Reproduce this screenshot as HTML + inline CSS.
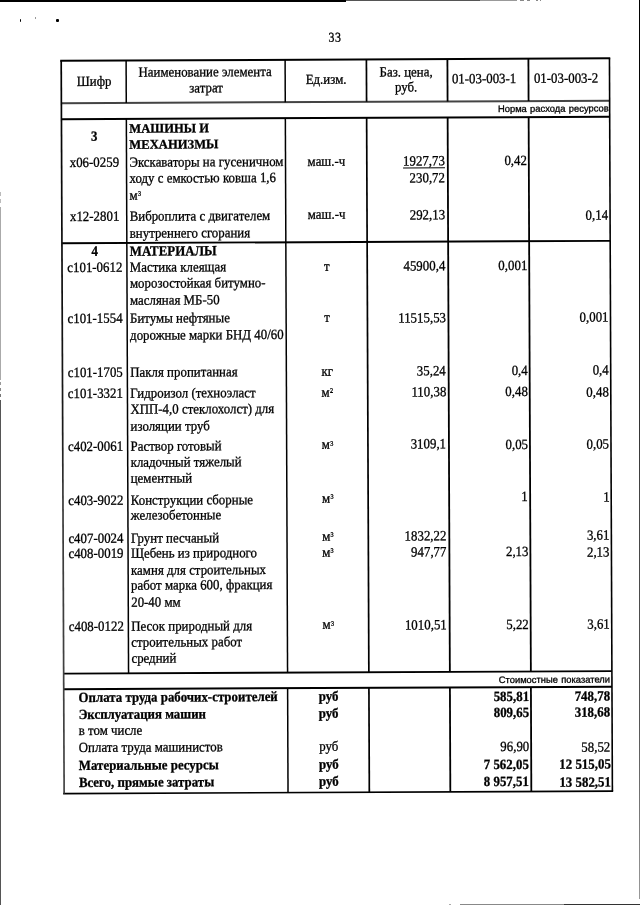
<!DOCTYPE html>
<html lang="ru"><head><meta charset="utf-8"><title>33</title>
<style>
html,body{margin:0;padding:0;background:#fff}
body{width:640px;height:905px;position:relative;overflow:hidden;font-family:"Liberation Serif","DejaVu Serif",serif;font-size:14px;color:#000}
#pg{position:absolute;left:0;top:0;width:640px;height:905px;transform-origin:60px 60px;transform:matrix(1,-0.0045,0.004,1,0,0)}
i{position:absolute;display:block}
.t{position:absolute;white-space:nowrap;-webkit-text-stroke:0.3px #000;line-height:17px;transform:scaleX(0.92);transform-origin:0 0}
.rr{transform-origin:100% 0;text-align:right}
.cc{transform:translateX(-50%) scaleX(0.92);transform-origin:50% 0}
.b{font-weight:bold}

.pn{font-size:13.6px;letter-spacing:0.4px;transform:translateX(-50%) scaleX(0.88)}
.h13{font-size:13px;transform:scaleX(0.97)}
sup{font-size:6.8px;vertical-align:3.5px;line-height:0;margin-left:0.3px}
.u{text-decoration:underline;text-decoration-thickness:1px;text-underline-offset:2.2px}
.sans{font-family:"Liberation Sans","DejaVu Sans",sans-serif;font-size:9.4px;transform:none;word-spacing:0.7px}
</style></head><body>
<div id="pg">
<svg width="640" height="905" style="position:absolute;left:0;top:0"><defs><linearGradient id="lg" x1="0" y1="0" x2="0" y2="1"><stop offset="0" stop-color="#000"/><stop offset="0.5" stop-color="#1a1a1a"/><stop offset="0.6" stop-color="#3a3a3a"/><stop offset="1" stop-color="#444"/></linearGradient></defs>
<rect x="60.20" y="59.80" width="550.05" height="2.00" fill="#000"/>
<rect x="61.20" y="102.20" width="548.25" height="2.00" fill="#444"/>
<rect x="61.20" y="118.20" width="548.25" height="2.00" fill="#000"/>
<rect x="61.20" y="242.35" width="548.25" height="1.90" fill="#000"/>
<rect x="61.20" y="672.65" width="548.25" height="1.90" fill="#000"/>
<rect x="61.20" y="688.20" width="548.25" height="2.00" fill="#000"/>
<rect x="60.20" y="792.80" width="550.05" height="1.60" fill="#000"/>
<rect x="60.35" y="60.80" width="1.70" height="732.80" fill="url(#lg)"/>
<rect x="125.35" y="60.80" width="1.50" height="42.40" fill="#000"/>
<rect x="125.35" y="119.20" width="1.50" height="554.40" fill="#000"/>
<rect x="284.35" y="60.80" width="1.50" height="42.40" fill="#000"/>
<rect x="284.35" y="119.20" width="1.50" height="554.40" fill="#000"/>
<rect x="284.35" y="689.20" width="1.50" height="104.40" fill="#000"/>
<rect x="365.55" y="60.80" width="1.70" height="42.40" fill="#000"/>
<rect x="365.55" y="119.20" width="1.70" height="554.40" fill="#000"/>
<rect x="365.55" y="689.20" width="1.70" height="104.40" fill="#000"/>
<rect x="446.50" y="60.80" width="1.80" height="42.40" fill="#000"/>
<rect x="446.50" y="119.20" width="1.80" height="554.40" fill="#000"/>
<rect x="446.50" y="689.20" width="1.80" height="104.40" fill="#000"/>
<rect x="527.50" y="60.80" width="1.80" height="42.40" fill="#000"/>
<rect x="527.50" y="119.20" width="1.80" height="554.40" fill="#000"/>
<rect x="527.50" y="689.20" width="1.80" height="104.40" fill="#000"/>
<rect x="608.65" y="60.80" width="1.60" height="732.80" fill="#000"/>
</svg>
<div class="t pn cc" style="left:334.97px;top:29.54px">33</div>
<div class="t  cc" style="left:94.00px;top:72.65px">Шифр</div>
<div class="t  cc" style="left:205.34px;top:63.75px">Наименование элемента</div>
<div class="t  cc" style="left:206.12px;top:79.86px">затрат</div>
<div class="t  cc" style="left:325.80px;top:72.40px">Ед.изм.</div>
<div class="t  cc" style="left:406.19px;top:64.56px">Баз. цена,</div>
<div class="t  cc" style="left:406.12px;top:80.31px">руб.</div>
<div class="t  cc" style="left:483.91px;top:71.71px">01-03-003-1</div>
<div class="t  cc" style="left:565.51px;top:72.08px">01-03-003-2</div>
<div class="t sans rr" style="right:31.51px;top:102.17px">Норма расхода ресурсов</div>
<div class="t b cc" style="left:93.67px;top:128.45px">3</div>
<div class="t b h13" style="left:128.75px;top:120.31px">МАШИНЫ И</div>
<div class="t b h13" style="left:128.75px;top:136.31px">МЕХАНИЗМЫ</div>
<div class="t  cc" style="left:93.50px;top:154.06px">x06-0259</div>
<div class="t" style="left:128.75px;top:154.06px">Экскаваторы на гусеничном</div>
<div class="t  cc" style="left:326.10px;top:153.60px">маш.-ч</div>
<div class="t u rr" style="right:195.50px;top:154.04px">1927,73</div>
<div class="t  rr" style="right:113.60px;top:154.40px">0,42</div>
<div class="t" style="left:128.75px;top:170.31px">ходу с емкостью ковша 1,6</div>
<div class="t  rr" style="right:195.50px;top:170.54px">230,72</div>
<div class="t" style="left:128.75px;top:186.56px">м<sup>3</sup></div>
<div class="t  cc" style="left:93.50px;top:208.41px">x12-2801</div>
<div class="t" style="left:128.75px;top:208.41px">Виброплита с двигателем</div>
<div class="t  cc" style="left:326.10px;top:207.45px">маш.-ч</div>
<div class="t  rr" style="right:195.50px;top:208.04px">292,13</div>
<div class="t  rr" style="right:32.10px;top:208.76px">0,14</div>
<div class="t" style="left:128.75px;top:225.31px">внутреннего сгорания</div>
<div class="t b cc" style="left:93.50px;top:243.42px">4</div>
<div class="t b" style="left:128.75px;top:243.42px">МАТЕРИАЛЫ</div>
<div class="t  cc" style="left:93.50px;top:259.06px">c101-0612</div>
<div class="t" style="left:128.75px;top:259.06px">Мастика клеящая</div>
<div class="t  cc" style="left:326.10px;top:258.95px">т</div>
<div class="t  rr" style="right:195.50px;top:259.04px">45900,4</div>
<div class="t  rr" style="right:113.60px;top:259.40px">0,001</div>
<div class="t" style="left:128.75px;top:275.31px">морозостойкая битумно-</div>
<div class="t" style="left:128.75px;top:291.56px">масляная МБ-50</div>
<div class="t  cc" style="left:93.50px;top:310.31px">c101-1554</div>
<div class="t" style="left:128.75px;top:310.31px">Битумы нефтяные</div>
<div class="t  cc" style="left:326.10px;top:310.20px">т</div>
<div class="t  rr" style="right:195.50px;top:310.54px">11515,53</div>
<div class="t  rr" style="right:32.10px;top:311.26px">0,001</div>
<div class="t" style="left:128.75px;top:326.81px">дорожные марки БНД 40/60</div>
<div class="t  cc" style="left:93.50px;top:364.31px">c101-1705</div>
<div class="t" style="left:128.75px;top:364.31px">Пакля пропитанная</div>
<div class="t  cc" style="left:326.10px;top:363.70px">кг</div>
<div class="t  rr" style="right:195.50px;top:364.04px">35,24</div>
<div class="t  rr" style="right:113.60px;top:363.90px">0,4</div>
<div class="t  rr" style="right:32.10px;top:364.26px">0,4</div>
<div class="t  cc" style="left:93.50px;top:385.31px">c101-3321</div>
<div class="t" style="left:128.75px;top:385.31px">Гидроизол (техноэласт</div>
<div class="t  cc" style="left:326.10px;top:384.60px">м<sup>2</sup></div>
<div class="t  rr" style="right:195.50px;top:384.79px">110,38</div>
<div class="t  rr" style="right:113.60px;top:385.15px">0,48</div>
<div class="t  rr" style="right:32.10px;top:385.51px">0,48</div>
<div class="t" style="left:128.75px;top:401.31px">ХПП-4,0 стеклохолст) для</div>
<div class="t" style="left:128.75px;top:417.81px">изоляции труб</div>
<div class="t  cc" style="left:93.50px;top:438.42px">c402-0061</div>
<div class="t" style="left:128.75px;top:438.42px">Раствор готовый</div>
<div class="t  cc" style="left:326.10px;top:437.45px">м<sup>3</sup></div>
<div class="t  rr" style="right:195.50px;top:437.29px">3109,1</div>
<div class="t  rr" style="right:113.60px;top:437.65px">0,05</div>
<div class="t  rr" style="right:32.10px;top:438.01px">0,05</div>
<div class="t" style="left:128.75px;top:454.06px">кладочный тяжелый</div>
<div class="t" style="left:128.75px;top:470.31px">цементный</div>
<div class="t  cc" style="left:93.50px;top:491.56px">c403-9022</div>
<div class="t" style="left:128.75px;top:491.56px">Конструкции сборные</div>
<div class="t  cc" style="left:326.10px;top:490.70px">м<sup>3</sup></div>
<div class="t  rr" style="right:113.60px;top:490.15px">1</div>
<div class="t  rr" style="right:32.10px;top:490.51px">1</div>
<div class="t" style="left:128.75px;top:507.22px">железобетонные</div>
<div class="t  cc" style="left:93.50px;top:529.72px">c407-0024</div>
<div class="t" style="left:128.75px;top:529.72px">Грунт песчаный</div>
<div class="t  cc" style="left:326.10px;top:528.70px">м<sup>3</sup></div>
<div class="t  rr" style="right:195.50px;top:529.04px">1832,22</div>
<div class="t  rr" style="right:32.10px;top:529.26px">3,61</div>
<div class="t  cc" style="left:93.50px;top:545.32px">c408-0019</div>
<div class="t" style="left:128.75px;top:545.32px">Щебень из природного</div>
<div class="t  cc" style="left:326.10px;top:544.70px">м<sup>3</sup></div>
<div class="t  rr" style="right:195.50px;top:544.79px">947,77</div>
<div class="t  rr" style="right:113.60px;top:545.15px">2,13</div>
<div class="t  rr" style="right:32.10px;top:545.51px">2,13</div>
<div class="t" style="left:128.75px;top:561.82px">камня для строительных</div>
<div class="t" style="left:128.75px;top:577.22px">работ марка 600, фракция</div>
<div class="t" style="left:128.75px;top:594.07px">20-40 мм</div>
<div class="t  cc" style="left:93.50px;top:617.82px">c408-0122</div>
<div class="t" style="left:128.75px;top:617.82px">Песок природный для</div>
<div class="t  cc" style="left:326.10px;top:617.20px">м<sup>3</sup></div>
<div class="t  rr" style="right:195.50px;top:618.04px">1010,51</div>
<div class="t  rr" style="right:113.60px;top:617.65px">5,22</div>
<div class="t  rr" style="right:32.10px;top:618.01px">3,61</div>
<div class="t" style="left:128.75px;top:634.07px">строительных работ</div>
<div class="t" style="left:128.75px;top:649.72px">средний</div>
<div class="t sans rr" style="right:32.49px;top:673.48px">Стоимостные показатели</div>
<div class="t b" style="left:75.70px;top:689.34px">Оплата труда рабочих-строителей</div>
<div class="t b cc" style="left:326.10px;top:688.95px">руб</div>
<div class="t b rr" style="right:113.60px;top:689.50px">585,81</div>
<div class="t b rr" style="right:32.10px;top:689.86px">748,78</div>
<div class="t b" style="left:75.70px;top:706.19px">Эксплуатация машин</div>
<div class="t b cc" style="left:326.10px;top:705.80px">руб</div>
<div class="t b rr" style="right:113.60px;top:705.50px">809,65</div>
<div class="t b rr" style="right:32.10px;top:705.86px">318,68</div>
<div class="t" style="left:75.70px;top:722.49px">в том числе</div>
<div class="t" style="left:75.70px;top:739.34px">Оплата труда машинистов</div>
<div class="t  cc" style="left:326.10px;top:738.95px">руб</div>
<div class="t  rr" style="right:113.60px;top:740.15px">96,90</div>
<div class="t  rr" style="right:32.10px;top:740.51px">58,52</div>
<div class="t b" style="left:75.70px;top:757.49px">Материальные ресурсы</div>
<div class="t b cc" style="left:326.10px;top:757.10px">руб</div>
<div class="t b rr" style="right:113.60px;top:757.65px">7 562,05</div>
<div class="t b rr" style="right:32.10px;top:758.01px">12 515,05</div>
<div class="t b" style="left:75.70px;top:774.34px">Всего, прямые затраты</div>
<div class="t b cc" style="left:326.10px;top:773.95px">руб</div>
<div class="t b rr" style="right:113.60px;top:775.15px">8 957,51</div>
<div class="t b rr" style="right:32.10px;top:775.51px">13 582,51</div>
</div>
<div id="scan">
<i style="left:0;top:0;width:80px;height:2.3px;background:#000"></i>
<i style="left:80px;top:0;width:266px;height:1.5px;background:#000"></i>
<i style="left:346px;top:0;width:134px;height:1px;background:#555"></i>
<i style="left:480px;top:0;width:37px;height:1px;background:#999"></i>
<i style="left:520px;top:0;width:4px;height:1px;background:#888"></i>
<i style="left:527px;top:0;width:3px;height:1px;background:#888"></i>
<i style="left:536px;top:0;width:2px;height:1px;background:#888"></i>
<i style="left:540px;top:0;width:1px;height:1px;background:#888"></i>
<i style="left:638.7px;top:0;width:1.3px;height:899px;background:linear-gradient(#000,#111 30%,#444 55%,#555 80%,#999)"></i>
<i style="left:0;top:192px;width:1px;height:4px;background:#bbb"></i>
<i style="left:0;top:199px;width:1px;height:4px;background:#bbb"></i>
<i style="left:0;top:207px;width:1px;height:173px;background:#aaa"></i>
<i style="left:0;top:382px;width:1px;height:3px;background:#999"></i>
<i style="left:0;top:388px;width:1px;height:3px;background:#888"></i>
<i style="left:0;top:394px;width:1px;height:3px;background:#777"></i>
<i style="left:0;top:400px;width:1.2px;height:505px;background:#555"></i>
<i style="left:449px;top:904px;width:2px;height:1px;background:#aaa"></i>
<i style="left:460px;top:904px;width:104px;height:1px;background:#888"></i>
<i style="left:564px;top:904px;width:76px;height:1px;background:#333"></i>
<i style="left:19.9px;top:19px;width:0.9px;height:2.6px;background:#000;border-radius:50%"></i>
<i style="left:35px;top:17px;width:0.6px;height:2px;background:#999"></i>
<i style="left:56px;top:19px;width:2.6px;height:2.6px;background:#000;border-radius:40%"></i>
</div>
</body></html>
